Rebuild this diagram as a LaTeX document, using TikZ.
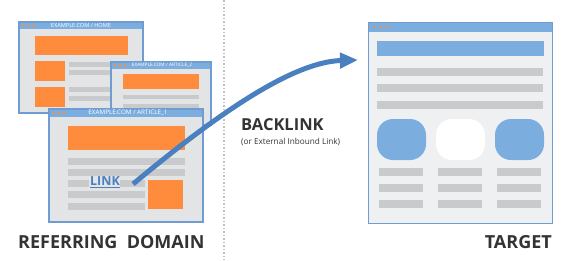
\documentclass[tikz,border=0pt]{standalone}
\usepackage{fontspec}
\setmainfont{Open Sans}
\usetikzlibrary{arrows.meta}
\definecolor{winblue}{HTML}{7BADDF}
\definecolor{winedge}{HTML}{6F9DD3}
\definecolor{pagegray}{HTML}{E3E4E6}
\definecolor{targetgray}{HTML}{EFF0F2}
\definecolor{blockorange}{HTML}{FF8C3C}
\definecolor{linegray}{HTML}{C9CACC}
\definecolor{arrowblue}{HTML}{4A80C0}
\definecolor{labeldark}{HTML}{333333}
\begin{document}
\begin{tikzpicture}[x=1pt,y=-1pt,
  frame/.style={draw=winedge,line width=1.2pt},
  titletext/.style={text=white,inner sep=0pt,font=\fontsize{5.6}{6}\selectfont},
  caption/.style={text=labeldark,font=\bfseries\fontsize{18}{20}\selectfont,inner sep=0pt},
  backlink/.style={arrowblue,line width=5pt,-{Triangle[length=18pt,width=15pt]}}]
  \useasboundingbox (0,0) rectangle (581,260);
  \draw[gray!50,line width=1.5pt,dotted] (224,0) -- (224,260);
  % home page
  \fill[pagegray] (19,22) rectangle (143,113);
  \fill[winblue] (19,22) rectangle (143,29);
  \draw[frame] (19,22) rectangle (143,113);
  \foreach \i in {0,1,2} \fill[blockorange] (23+5*\i,25.5) circle (1.3);
  \node[titletext] (hometitle) at (81,25.5) {EXAMPLE.COM / HOME};
  \fill[blockorange] (35,36) rectangle (128,55);
  \fill[blockorange] (35,61) rectangle (65,81);
  \fill[blockorange] (35,87) rectangle (65,107);
  \foreach \y in {62,70,87,96} \fill[linegray] (69,\y) rectangle (128,\y+5);
  % article 2
  \fill[pagegray] (111,62) rectangle (211,125);
  \fill[winblue] (111,62) rectangle (211,69);
  \draw[frame] (111,62) rectangle (211,125);
  \foreach \i in {0,1,2} \fill[blockorange] (115+5*\i,65.5) circle (1.3);
  \node[titletext,font=\fontsize{4.8}{5}\selectfont] (art2title) at (162,65.5) {EXAMPLE.COM / ARTICLE\_2};
  \fill[blockorange] (123,74) rectangle (199,89);
  \foreach \y in {95,104} \fill[linegray] (123,\y) rectangle (199,\y+4);
  % article 1
  \fill[pagegray] (49,109) rectangle (203,222);
  \fill[winblue] (49,109) rectangle (203,117);
  \draw[frame] (49,109) rectangle (203,222);
  \foreach \i in {0,1,2} \fill[blockorange] (54+5*\i,113) circle (1.3);
  \node[titletext,font=\fontsize{6.3}{7}\selectfont] (art1title) at (128,113) {EXAMPLE.COM / ARTICLE\_1};
  \fill[blockorange] (68,126) rectangle (185,150);
  \foreach \y in {158,169} \fill[linegray] (68,\y) rectangle (185,\y+7);
  \fill[linegray] (68,180) rectangle (89,187);
  \fill[linegray] (120,180) rectangle (145,187);
  \foreach \y in {191,203} \fill[linegray] (68,\y) rectangle (145,\y+7);
  \fill[blockorange] (148,180) rectangle (183,209);
  \node[text=arrowblue,font=\bfseries\fontsize{12.5}{14}\selectfont,inner sep=1pt] (link) at (105,182) {\underline{LINK}};
  % target page
  \fill[targetgray] (368,22) rectangle (552,223);
  \fill[winblue] (368,22) rectangle (552,32);
  \draw[frame,line width=1pt] (368,22) rectangle (552,223);
  \foreach \i in {0,1,2} \fill[blockorange] (374+7*\i,27) circle (1.4);
  \fill[winblue] (377,41) rectangle (544,56);
  \foreach \y in {68,84,101} \fill[linegray] (377,\y) rectangle (543,\y+8);
  \fill[winblue,rounded corners=16pt] (377,119) rectangle (426,160);
  \fill[white,rounded corners=16pt] (436,119) rectangle (485,160);
  \fill[winblue,rounded corners=16pt] (495,119) rectangle (544,160);
  \foreach \x in {379,438,497}
    \foreach \y in {168,184,200} \fill[linegray] (\x,\y) rectangle (\x+44,\y+8);
  \coordinate (target) at (358,60);
  % backlink
  \draw[backlink] ([xshift=12pt,yshift=-2pt]link.east) .. controls (210,120) and (290,62) .. (target);
  \node[text=labeldark,font=\bfseries\fontsize{16.5}{18}\selectfont,anchor=west,inner sep=0pt] (backlinklabel) at (241,125) {BACKLINK};
  \node[text=labeldark,font=\fontsize{8.2}{9}\selectfont,anchor=west,inner sep=0pt] (backlinknote) at (241,142) {(or External Inbound Link)};
  \node[caption,anchor=west] (referring) at (18,242) {REFERRING\ \ DOMAIN};
  \node[caption,anchor=east] (targetlabel) at (552,242) {TARGET};
\end{tikzpicture}
\end{document}
